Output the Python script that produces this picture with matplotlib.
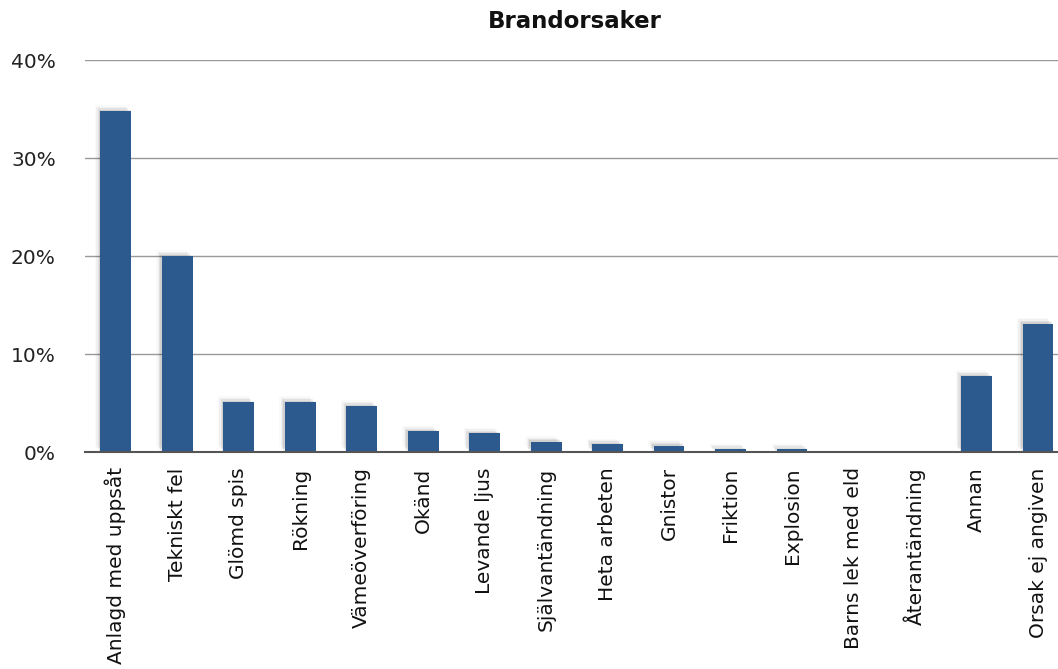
import matplotlib
matplotlib.use("Agg")
import matplotlib.pyplot as plt
import matplotlib.patheffects as pe

categories = ["Anlagd med uppsåt", "Tekniskt fel", "Glömd spis", "Rökning",
              "Vämeöverföring", "Okänd", "Levande ljus", "Självantändning",
              "Heta arbeten", "Gnistor", "Friktion", "Explosion",
              "Barns lek med eld", "Återantändning", "Annan", "Orsak ej angiven"]
values = [34.8, 20.0, 5.1, 5.1, 4.7, 2.1, 1.9, 1.05, 0.8, 0.65, 0.3, 0.3,
          0.0, 0.0, 7.75, 13.1]
yticks = [0, 10, 20, 30, 40]
ytick_labels = ["0%", "10%", "20%", "30%", "40%"]
title = "Brandorsaker"

plt.rcParams['font.family'] = ['DejaVu Sans']

W, H = 1058, 669
fig = plt.figure(figsize=(W / 100, H / 100), dpi=100)
left, right, top, bottom = 85, 1058, 60, 452
ax = fig.add_axes([left / W, 1 - bottom / H, (right - left) / W, (bottom - top) / H])

x = list(range(len(categories)))
shadow = [pe.SimplePatchShadow(offset=(-1, 1), shadow_rgbFace='black', alpha=0.08),
          pe.SimplePatchShadow(offset=(-2, 2), shadow_rgbFace='black', alpha=0.06),
          pe.SimplePatchShadow(offset=(-3, 3), shadow_rgbFace='black', alpha=0.04),
          pe.SimplePatchShadow(offset=(-4, 4), shadow_rgbFace='black', alpha=0.02),
          pe.Normal()]
bars = ax.bar(x, values, width=0.5, color="#2d5a8e", zorder=3)
for b in bars:
    if b.get_height() > 0:
        b.set_path_effects(shadow)

ax.set_xlim(-0.5, (right - 115.5) / 61.5)
ax.set_ylim(0, 40)
ax.set_yticks(yticks)
ax.set_yticklabels(ytick_labels, fontsize=14.5, color="#222222")
ax.set_xticks(x)
ax.set_xticklabels(categories, rotation=90, fontsize=14.5, color="#111111",
                   va="top", ha="center")
ax.tick_params(axis='x', length=0, pad=11)
ax.tick_params(axis='y', length=0, pad=21)
ax.grid(axis='y', color="#999999", linewidth=1.0, zorder=0)
for s in ["top", "right", "left"]:
    ax.spines[s].set_visible(False)
ax.spines["bottom"].set_color("#555555")
ax.spines["bottom"].set_linewidth(1.5)
ax.spines["bottom"].set_zorder(4)

fig.text(575 / W, 1 - 22 / H, title, ha="center", va="center",
         fontsize=16.5, fontweight="bold", color="#111111")

fig.savefig("out.png", dpi=100)
